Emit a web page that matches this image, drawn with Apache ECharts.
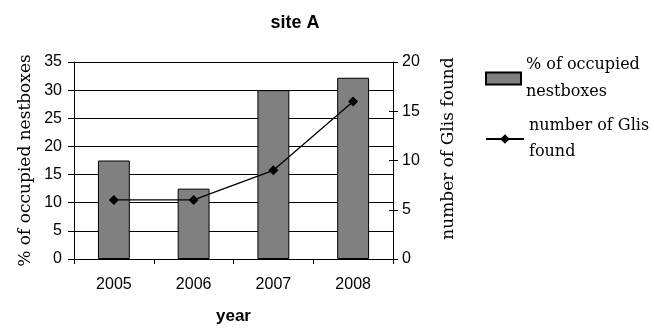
<!DOCTYPE html>
<html><head><meta charset="utf-8">
<script src="https://cdn.jsdelivr.net/npm/echarts@6/dist/echarts.min.js"></script>
<style>html,body{margin:0;padding:0;background:#fff}#c{width:654px;height:328px}</style>
</head><body><div id="c"></div>
<script>
const years = ['2005', '2006', '2007', '2008'];
const occupiedPct = [17.5, 12.5, 30, 32.2];
const glisFound = [6, 6, 9, 16];
const leftTicks = [0, 35, 5];
const rightTicks = [0, 20, 5];

const SANS = 'Liberation Sans';
const SERIF = 'DejaVu Serif';
const chart = echarts.init(document.getElementById('c'), null, {renderer: 'canvas'});
chart.setOption({
  animation: false,
  backgroundColor: '#fff',
  title: {text: 'site A', left: 290, textAlign: 'center', top: 9,
    textStyle: {fontFamily: SANS, fontWeight: 'bold', fontSize: 18, color: '#000'}},
  legend: [
    {data: ['% of occupied nestboxes'], orient: 'vertical', left: 480, top: 33,
      itemWidth: 35, itemHeight: 12, icon: 'rect', itemGap: 0,
      formatter: () => '% of occupied\nnestboxes',
      textStyle: {fontFamily: SERIF, fontSize: 16, color: '#000', lineHeight: 27, padding: [27, 0, 0, 0]}},
    {data: ['number of Glis found'], orient: 'vertical', left: 480, top: 95,
      itemWidth: 38, itemHeight: 12,
      formatter: () => 'number of Glis\nfound',
      textStyle: {fontFamily: SERIF, fontSize: 16, color: '#000', lineHeight: 26, padding: [26, 0, 0, 0]}}
  ],
  grid: {left: 74, right: 261, top: 62, bottom: 69, containLabel: false, outerBoundsMode: 'none'},
  xAxis: {type: 'category', data: years, boundaryGap: true,
    name: 'year', nameLocation: 'middle', nameGap: 49,
    nameTextStyle: {fontFamily: SANS, fontWeight: 'bold', fontSize: 17, color: '#000'},
    axisLine: {lineStyle: {color: '#000', width: 1}},
    axisTick: {show: true, length: 5, lineStyle: {color: '#000'}},
    axisLabel: {fontFamily: SANS, fontSize: 16, color: '#000', margin: 18}},
  yAxis: [
    {type: 'value', min: leftTicks[0], max: leftTicks[1], interval: leftTicks[2], position: 'left',
      name: '% of occupied nestboxes', nameLocation: 'middle', nameGap: 40,
      nameTextStyle: {fontFamily: SERIF, fontSize: 17, color: '#000'},
      axisLine: {show: true, lineStyle: {color: '#000'}},
      axisTick: {show: true, length: 6, lineStyle: {color: '#000'}},
      axisLabel: {fontFamily: SANS, fontSize: 16, color: '#000', margin: 12},
      splitLine: {show: true, lineStyle: {color: '#000', width: 1}}},
    {type: 'value', min: rightTicks[0], max: rightTicks[1], interval: rightTicks[2], position: 'right',
      name: 'number of Glis found', nameLocation: 'middle', nameGap: 47,
      nameTextStyle: {fontFamily: SERIF, fontSize: 17, color: '#000', padding: [0, 0, 0, 24]},
      axisLine: {show: true, lineStyle: {color: '#000'}},
      axisTick: {show: true, length: 5, lineStyle: {color: '#000'}},
      axisLabel: {fontFamily: SANS, fontSize: 16, color: '#000', margin: 9},
      splitLine: {show: false}},
    {type: 'value', min: rightTicks[0], max: rightTicks[1], interval: rightTicks[2], position: 'right',
      axisLine: {show: false},
      axisTick: {show: true, inside: true, length: 4, lineStyle: {color: '#000'}},
      axisLabel: {show: false}, splitLine: {show: false}}
  ],
  series: [
    {name: '% of occupied nestboxes', type: 'bar', data: occupiedPct, yAxisIndex: 0,
      barWidth: '40%',
      itemStyle: {color: '#808080', borderColor: '#000', borderWidth: 1}},
    {name: 'number of Glis found', type: 'line', data: glisFound, yAxisIndex: 1,
      symbol: 'diamond', symbolSize: 10,
      lineStyle: {color: '#000', width: 1.3},
      itemStyle: {color: '#000'}}
  ]
});
</script></body></html>
